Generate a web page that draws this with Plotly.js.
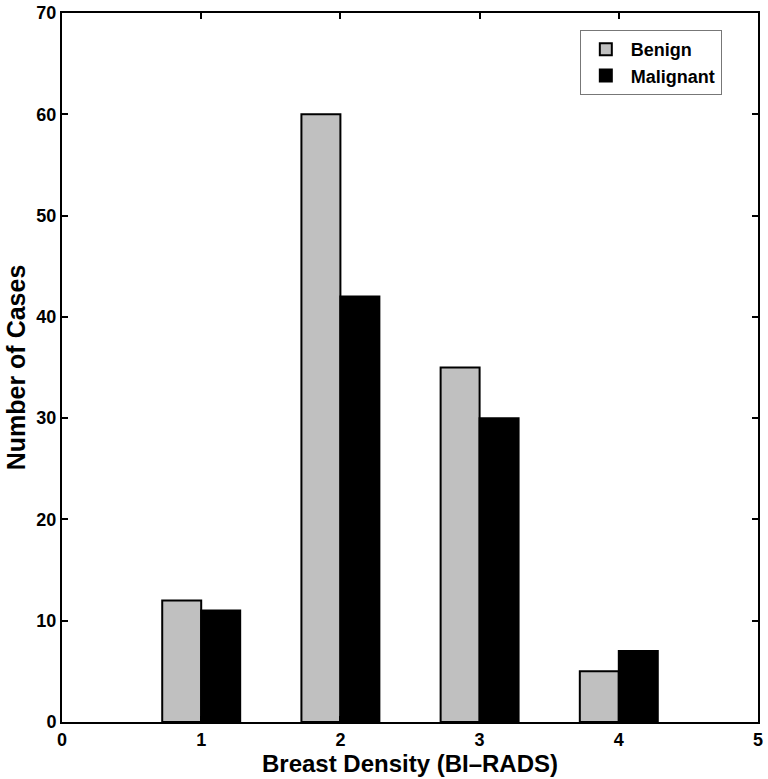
<!DOCTYPE html>
<html>
<head>
<meta charset="utf-8">
<script src="https://cdn.plot.ly/plotly-3.0.1.min.js"></script>
<style>
  body { margin: 0; background: #fff; }
  #chart { width: 768px; height: 779px; }
</style>
</head>
<body>
<div id="chart"></div>
<script>
// BI-RADS density categories and case counts
const density = [1, 2, 3, 4];
const benign = [12, 60, 35, 5];
const malignant = [11, 42, 30, 7];

const boldFont = "Liberation Sans, Arial, sans-serif";

let traces = [
  {
    x: density,
    y: benign,
    type: 'bar',
    name: 'Benign',
    marker: {color: '#c0c0c0', line: {color: '#000', width: 2}}
  },
  {
    x: density,
    y: malignant,
    type: 'bar',
    name: 'Malignant',
    marker: {color: '#000', line: {color: '#000', width: 2}}
  }
];

let axisStyle = {
  showline: true,
  linecolor: '#000',
  linewidth: 2,
  mirror: 'ticks',
  ticks: 'inside',
  ticklen: 6,
  tickwidth: 2,
  tickcolor: '#000',
  showgrid: false,
  zeroline: false,
  tickfont: {family: boldFont, size: 18, color: '#000', weight: 'bold'}
};

var layout = {
  width: 768,
  height: 779,
  margin: {l: 62, r: 10, t: 13, b: 57},
  paper_bgcolor: '#fff',
  plot_bgcolor: '#fff',
  barmode: 'group',
  bargap: 0.44,
  bargroupgap: 0,
  xaxis: Object.assign({}, axisStyle, {
    range: [0, 5],
    tickvals: [0, 1, 2, 3, 4, 5],
    title: {text: '<b>Breast Density (BI\u2013RADS)</b>', font: {family: boldFont, size: 24, color: '#000'}, standoff: 2}
  }),
  yaxis: Object.assign({}, axisStyle, {
    range: [0, 70],
    tickvals: [0, 10, 20, 30, 40, 50, 60, 70],
    title: {text: '<b>Number of Cases</b>', font: {family: boldFont, size: 25, color: '#000'}, standoff: 4}
  }),
  legend: {
    x: 0.744, y: 0.976, xanchor: 'left', yanchor: 'top',
    bgcolor: '#fff',
    bordercolor: '#777',
    borderwidth: 1,
    font: {family: boldFont, size: 18, color: '#000', weight: 'bold'},
    itemwidth: 40
  },
  showlegend: true
};

Plotly.newPlot('chart', traces, layout, {displayModeBar: false});
</script>
</body>
</html>
